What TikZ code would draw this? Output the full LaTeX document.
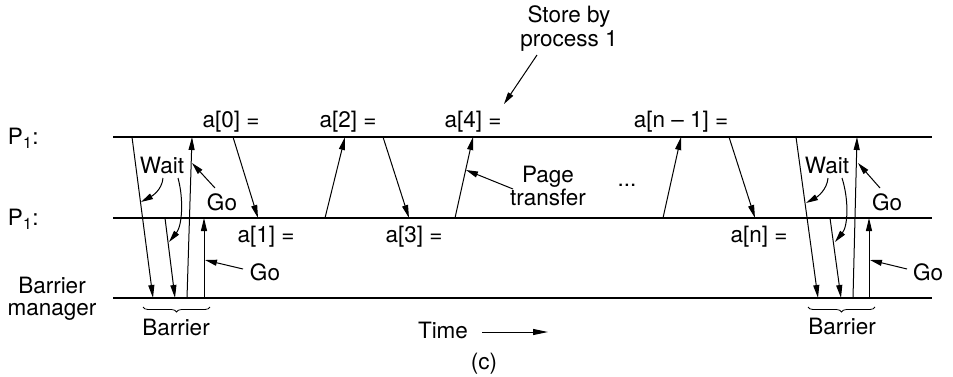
\documentclass[tikz,border=0pt]{standalone}
\usepackage{fontspec}
\setmainfont{TeX Gyre Heros}
\usetikzlibrary{arrows.meta,decorations.pathreplacing}
\begin{document}
\begin{tikzpicture}[x=1pt,y=-1pt,
  lbl/.style={font=\fontsize{22.5}{24}\selectfont, inner sep=0pt, outer sep=0pt},
  tline/.style={line width=1.6pt},
  msg/.style={line width=1pt, -{Triangle[length=13pt,width=6pt]}},
  ptr/.style={line width=1pt, -{Triangle[length=12pt,width=6pt]}},
  bracestyle/.style={line width=0.8pt, decorate, decoration={brace, amplitude=5pt}}
]
\useasboundingbox (0,0) rectangle (953,376);

% time lines
\coordinate (topS) at (113,137); \coordinate (topE) at (932,137);
\coordinate (midS) at (113,218); \coordinate (midE) at (932,218);
\coordinate (botS) at (113,298); \coordinate (botE) at (932,298);
\draw[tline] (topS) -- (topE);
\draw[tline] (midS) -- (midE);
\draw[tline] (botS) -- (botE);

% row labels
\node[lbl, anchor=base west] (pA) at (8,144) {P\textsubscript{1}:};
\node[lbl, anchor=base west] (pB) at (8,225) {P\textsubscript{1}:};
\node[lbl, anchor=base] (bmA) at (52,293) {Barrier};
\node[lbl, anchor=base] (bmB) at (52,315) {manager};

% left barrier arrows
\coordinate (la1s) at (132,137); \coordinate (la1e) at (153,298);
\coordinate (la2s) at (165,218); \coordinate (la2e) at (175,298);
\coordinate (la3s) at (187,298); \coordinate (la3e) at (192,137);
\coordinate (la4s) at (204,298); \coordinate (la4e) at (204,218);
\draw[msg] (la1s) -- (la1e);
\draw[msg] (la2s) -- (la2e);
\draw[msg] (la3s) -- (la3e);
\draw[msg] (la4s) -- (la4e);

% page transfers
\coordinate (t0s) at (233,137); \coordinate (t0e) at (258,218);
\coordinate (t1s) at (325,218); \coordinate (t1e) at (345,137);
\coordinate (t2s) at (383,137); \coordinate (t2e) at (409,218);
\coordinate (t3s) at (455,218); \coordinate (t3e) at (473,137);
\coordinate (t4s) at (663,218); \coordinate (t4e) at (681,137);
\coordinate (t5s) at (729,137); \coordinate (t5e) at (755,218);
\draw[msg] (t0s) -- (t0e);
\draw[msg] (t1s) -- (t1e);
\draw[msg] (t2s) -- (t2e);
\draw[msg] (t3s) -- (t3e);
\draw[msg] (t4s) -- (t4e);
\draw[msg] (t5s) -- (t5e);

% right barrier arrows
\coordinate (ra1s) at (796,137); \coordinate (ra1e) at (818,298);
\coordinate (ra2s) at (830,218); \coordinate (ra2e) at (841,298);
\coordinate (ra3s) at (853,298); \coordinate (ra3e) at (857,137);
\coordinate (ra4s) at (869,298); \coordinate (ra4e) at (869,218);
\draw[msg] (ra1s) -- (ra1e);
\draw[msg] (ra2s) -- (ra2e);
\draw[msg] (ra3s) -- (ra3e);
\draw[msg] (ra4s) -- (ra4e);

% value labels
\node[lbl] (v0) at (231,122) {a[0] =};
\node[lbl] (v1) at (266,237) {a[1] =};
\node[lbl] (v2) at (348,122) {a[2] =};
\node[lbl] (v3) at (414,237) {a[3] =};
\node[lbl] (v4) at (473,122) {a[4] =};
\node[lbl] (vn1) at (681,122) {a[n -- 1] =};
\node[lbl] (vn) at (759,237) {a[n] =};

% left annotations
\node[lbl, anchor=base] (waitL) at (162,173) {Wait};
\node[lbl, anchor=base] (goLa) at (222,210) {Go};
\node[lbl, anchor=base] (goLb) at (265,280) {Go};
\coordinate (wL1s) at (163,178); \coordinate (wL1e) at (141,202);
\coordinate (wL2s) at (178,178); \coordinate (wL2e) at (169,242);
\coordinate (gLas) at (215,188); \coordinate (gLae) at (192,163);
\coordinate (gLbs) at (243,269); \coordinate (gLbe) at (205,260);
\draw[ptr] (wL1s) .. controls (162,190) and (152,196) .. (wL1e);
\draw[ptr] (wL2s) .. controls (184,200) and (182,226) .. (wL2e);
\draw[ptr] (gLas) -- (gLae);
\draw[ptr] (gLbs) -- (gLbe);

% right annotations
\node[lbl, anchor=base] (waitR) at (827,173) {Wait};
\node[lbl, anchor=base] (goRa) at (887,210) {Go};
\node[lbl, anchor=base] (goRb) at (928,280) {Go};
\coordinate (wR1s) at (828,178); \coordinate (wR1e) at (806,203);
\coordinate (wR2s) at (842,178); \coordinate (wR2e) at (835,242);
\coordinate (gRas) at (880,188); \coordinate (gRae) at (858,163);
\coordinate (gRbs) at (907,269); \coordinate (gRbe) at (870,260);
\draw[ptr] (wR1s) .. controls (827,190) and (817,197) .. (wR1e);
\draw[ptr] (wR2s) .. controls (849,200) and (848,226) .. (wR2e);
\draw[ptr] (gRas) -- (gRae);
\draw[ptr] (gRbs) -- (gRbe);

% page transfer label
\node[lbl, anchor=base] (pgA) at (548,182) {Page};
\node[lbl, anchor=base] (pgB) at (548,205) {transfer};
\coordinate (pts) at (513,189); \coordinate (pte) at (466,170);
\draw[ptr] (pts) -- (pte);
\node[lbl, anchor=base] (dots) at (627,186) {...};

% store label
\node[lbl, anchor=base] (stA) at (569,22) {Store by};
\node[lbl, anchor=base] (stB) at (569,46) {process 1};
\coordinate (sts) at (537,55); \coordinate (ste) at (504,104);
\draw[ptr] (sts) -- (ste);

% barriers
\coordinate (bL1) at (143,307); \coordinate (bL2) at (210,307);
\coordinate (bR1) at (808,307); \coordinate (bR2) at (875,307);
\draw[bracestyle] (bL2) -- (bL1);
\draw[bracestyle] (bR2) -- (bR1);
\node[lbl, anchor=base] (barL) at (176,335) {Barrier};
\node[lbl, anchor=base] (barR) at (842,334) {Barrier};

% time axis
\node[lbl, anchor=base west] (time) at (418,338) {Time};
\coordinate (tas) at (482,332); \coordinate (tae) at (548,332);
\draw[line width=1pt, -{Triangle[length=15pt,width=6pt]}] (tas) -- (tae);
\node[lbl] (cap) at (484,364) {(c)};
\end{tikzpicture}
\end{document}
